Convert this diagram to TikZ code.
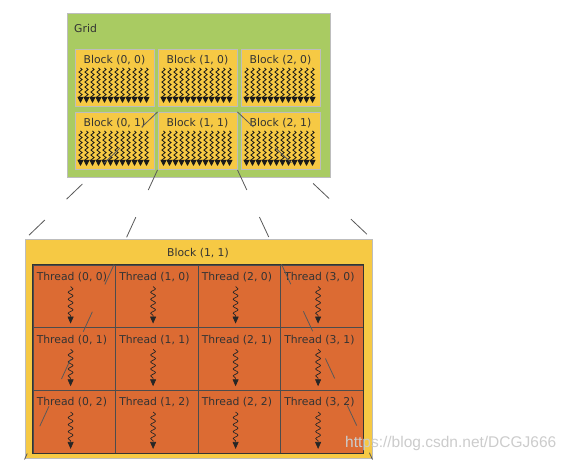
\documentclass[tikz,border=0pt]{standalone}
\usepackage{fontspec}
\setmainfont{DejaVu Sans}
\newfontfamily\markfont{Liberation Sans}
\usepackage{tikz}
\usetikzlibrary{arrows.meta,decorations.pathmorphing}
\definecolor{gridgreen}{HTML}{A9CB62}
\definecolor{blockyellow}{HTML}{F6C944}
\definecolor{threadorange}{HTML}{DC6B33}
\definecolor{edgegray}{HTML}{BDBDBD}
\definecolor{textgray}{HTML}{333333}

\begin{document}
\begin{tikzpicture}[x=1pt,y=-1pt,
    blockbox/.style={draw=edgegray, line width=1pt, fill=blockyellow, minimum width=79pt, minimum height=57pt, inner sep=0pt},
    cellbox/.style={draw=black!70, line width=0.8pt, fill=threadorange, minimum width=82.5pt, minimum height=62.67pt, inner sep=0pt},
    lbl/.style={text=textgray, font=\fontsize{10.8}{12}\selectfont, inner sep=0pt},
    wiggle/.style={draw=black!90, line width=0.8pt, decorate, decoration={snake, amplitude=1.6pt, segment length=5pt, post length=4pt}, -{Triangle[width=6pt,length=6pt]}},
    threadwiggle/.style={draw=black!85, line width=0.7pt, decorate, decoration={snake, amplitude=2.4pt, segment length=7pt, post length=5pt}, -{Triangle[width=6pt,length=7pt]}},
    zoomline/.style={draw=black!65, line width=0.8pt, dash pattern=on 22pt off 30pt}]
    \useasboundingbox (0,0) rectangle (571,462);
    \fill[white] (0,0) rectangle (571,462);
    % the grid of blocks
    \node[draw=edgegray, line width=1pt, fill=gridgreen, minimum width=263pt, minimum height=164pt, inner sep=0pt] (grid) at (198.5,96) {};
    \node[lbl, anchor=west] (gridtitle) at (74,28) {Grid};
    \foreach \i in {0,1,2}
      \foreach \j in {0,1} {
        \node[blockbox] (b\i\j) at ({114.5+83*\i},{78+63*\j}) {};
        \node[lbl] (bt\i\j) at ([yshift=-11pt]b\i\j.north) {Block (\i, \j)};
        \foreach \k in {0,...,11}
          \draw[wiggle] ([xshift={(6+6*\k)*1pt}, yshift=-19pt]b\i\j.north west) -- ++(0,35);
      }
    % one block, enlarged
    \node[draw=edgegray, line width=1pt, fill=blockyellow, minimum width=347pt, minimum height=219pt, inner sep=0pt] (big) at (198.5,349.5) {};
    \node[lbl] (bigtitle) at (198,253) {Block (1, 1)};
    \foreach \i in {0,...,3}
      \foreach \j in {0,1,2} {
        \node[cellbox] (t\i\j) at ({74.25+82.5*\i},{296.33+62.67*\j}) {};
        \node[lbl, anchor=west] (tt\i\j) at ([xshift=4pt, yshift=-12.5pt]t\i\j.north west) {Thread (\i, \j)};
        \draw[threadwiggle] ([xshift=38pt, yshift=-22pt]t\i\j.north west) -- ++(0,37);
      }
    \draw[draw=black!80, line width=1.4pt] (t00.north west) rectangle (t32.south east);
    % zoom lines
    \draw[zoomline] (b11.north west) -- (big.north west);
    \draw[zoomline] (b11.north east) -- (big.north east);
    \draw[zoomline] (b11.south west) -- (big.south west);
    \draw[zoomline] (b11.south east) -- (big.south east);
    \node[anchor=base west, text=black!20, font=\markfont\fontsize{15.5}{18}\selectfont, inner sep=0pt] (mark) at (345,448) {https://blog.csdn.net/DCGJ666};
\end{tikzpicture}
\end{document}
